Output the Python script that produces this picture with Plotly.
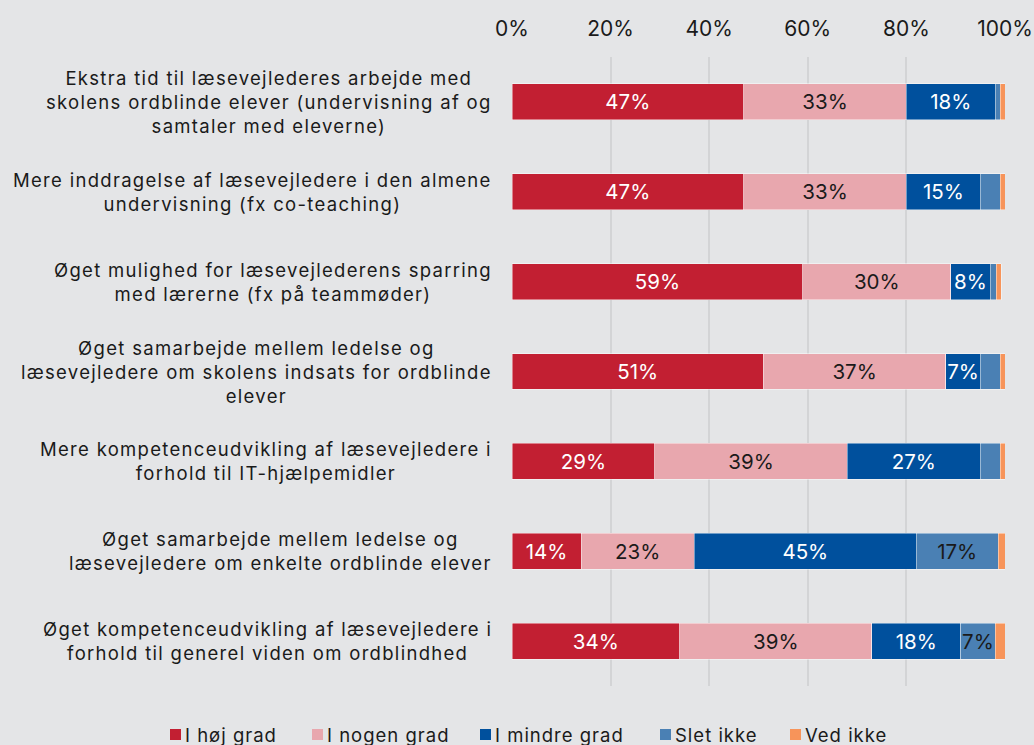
import plotly.graph_objects as go

categories = [
    "Ekstra tid til læsevejlederes arbejde med<br>skolens ordblinde elever (undervisning af og<br>samtaler med eleverne)",
    "Mere inddragelse af læsevejledere i den almene<br>undervisning (fx co-teaching)",
    "Øget mulighed for læsevejlederens sparring<br>med lærerne (fx på teammøder)",
    "Øget samarbejde mellem ledelse og<br>læsevejledere om skolens indsats for ordblinde<br>elever",
    "Mere kompetenceudvikling af læsevejledere i<br>forhold til IT-hjælpemidler",
    "Øget samarbejde mellem ledelse og<br>læsevejledere om enkelte ordblinde elever",
    "Øget kompetenceudvikling af læsevejledere i<br>forhold til generel viden om ordblindhed",
]

hoej = [47, 47, 59, 51, 29, 14, 34]
nogen = [33, 33, 30, 37, 39, 23, 39]
mindre = [18, 15, 8, 7, 27, 45, 18]
slet = [1, 4, 1.2, 4, 4, 16.6, 7]
vedikke = [1, 1, 1, 1, 1, 1.6, 2]

series = [
    ("I høj grad", hoej, "#C21F32", "white"),
    ("I nogen grad", nogen, "#E8A7AE", "#1a1a1a"),
    ("I mindre grad", mindre, "#00509D", "white"),
    ("Slet ikke", slet, "#4A80B4", "#1a1a1a"),
    ("Ved ikke", vedikke, "#F7945A", "#1a1a1a"),
]

# legend placement (left edge of each square, in pixels)
legend_x = [170, 312, 480, 660, 790]

FONT = "Inter"
L, R, T, B = 512, 29, 57, 59
W, H = 1034, 745
PW, PH = W - L - R, H - T - B


def px_x(px):
    return (px - L) / PW


def px_y(py):
    return (H - B - py) / PH


def spaced(s, sp):
    return f'<span style="letter-spacing:{sp}px">{s}</span>'


ypos = list(range(len(categories)))

fig = go.Figure()
for name, vals, color, tcol in series:
    labels = [f"{round(v)}%" if v >= 5 else "" for v in vals]
    fig.add_trace(go.Bar(
        y=ypos, x=vals, name=name, orientation="h",
        marker=dict(color=color, line=dict(width=0.8, color="rgba(255,255,255,0.55)")),
        text=labels, textposition="inside", insidetextanchor="middle",
        textangle=0, constraintext="none",
        textfont=dict(color=tcol, size=20.5, family=FONT),
        width=0.4, showlegend=False,
    ))

# category labels, centred multi-line like the original
for i, cat in enumerate(categories):
    lines = cat.split("<br>")
    fig.add_annotation(
        x=px_x(494), xref="paper", y=i, yref="y",
        text="<br>".join(spaced(s, 1.3) for s in lines),
        showarrow=False, xanchor="right", align="center",
        font=dict(size=18.5, family=FONT, color="#1a1a1a"),
    )

# legend drawn by hand: small square + label
for (name, vals, color, tcol), lx in zip(series, legend_x):
    fig.add_shape(type="rect", xref="paper", yref="paper",
                  x0=px_x(lx), x1=px_x(lx + 11), y0=px_y(740), y1=px_y(729),
                  fillcolor=color, line=dict(width=0))
    fig.add_annotation(x=px_x(lx + 13), xref="paper", y=px_y(735), yref="paper",
                       text=spaced(name, 1.0), showarrow=False,
                       xanchor="left", yanchor="middle",
                       font=dict(size=18.5, family=FONT, color="#1a1a1a"))

bg = "#E4E5E7"
fig.update_layout(
    barmode="stack",
    width=W, height=H,
    paper_bgcolor=bg, plot_bgcolor=bg,
    margin=dict(l=L, r=R, t=T, b=B, autoexpand=False),
    font=dict(family=FONT, size=20, color="#1a1a1a"),
    showlegend=False,
)
fig.update_xaxes(
    range=[0, 100], side="top", tickvals=[0, 20, 40, 60, 80, 100],
    ticktext=["0%", "20%", "40%", "60%", "80%", "100%"],
    showgrid=True, gridcolor="#D3D4D6", gridwidth=1.5, zeroline=False,
    ticks="", tickfont=dict(size=21), ticklabelstandoff=16,
    automargin=False, fixedrange=True,
)
fig.update_yaxes(
    tickvals=ypos, showticklabels=False, autorange=False,
    range=[len(categories) - 0.5, -0.5], showgrid=False, zeroline=False,
    fixedrange=True,
)

fig.write_html(
    "out.html",
    config={"displayModeBar": False},
    post_script="document.body.style.margin='0';document.body.style.overflow='hidden';",
)
